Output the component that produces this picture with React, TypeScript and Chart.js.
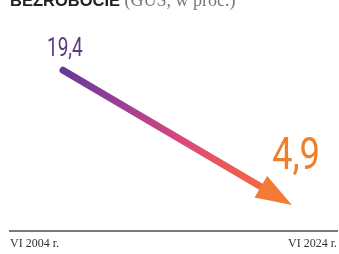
import React, { useEffect, useRef } from "react";
import { Chart, registerables } from "chart.js";

Chart.register(...registerables);

const years = [2004, 2024];
const values = [19.4, 4.9];
const valueLabels = ["19,4", "4,9"];
const tickLabels = ["VI 2004 r.", "VI 2024 r."];
const titleBold = "BEZROBOCIE";
const titleRest = "(GUS, w proc.)";

const arrowPlugin = {
  id: "arrowPlugin",
  afterDatasetsDraw(chart: any) {
    const meta = chart.getDatasetMeta(0);
    const p0 = meta.data[0];
    const p1 = meta.data[1];
    if (!p0 || !p1) return;
    const ctx = chart.ctx;
    const dx = p1.x - p0.x;
    const dy = p1.y - p0.y;
    const len = Math.sqrt(dx * dx + dy * dy);
    const ux = dx / len;
    const uy = dy / len;
    const nx = -uy;
    const ny = ux;
    const headLen = 36;
    const headHalf = 12.5;
    const bx = p1.x - ux * headLen;
    const by = p1.y - uy * headLen;

    ctx.save();
    const grad = ctx.createLinearGradient(p0.x, p0.y, p1.x, p1.y);
    grad.addColorStop(0, "#653a98");
    grad.addColorStop(0.25, "#9a3f93");
    grad.addColorStop(0.5, "#d8467f");
    grad.addColorStop(0.8, "#f0604a");
    grad.addColorStop(1, "#f47a38");
    ctx.strokeStyle = grad;
    ctx.lineWidth = 7;
    ctx.lineCap = "round";
    ctx.beginPath();
    ctx.moveTo(p0.x, p0.y);
    ctx.lineTo(bx + ux * 4, by + uy * 4);
    ctx.stroke();

    ctx.lineCap = "butt";
    ctx.fillStyle = "#f47a38";
    ctx.beginPath();
    ctx.moveTo(p1.x, p1.y);
    ctx.lineTo(bx + nx * headHalf, by + ny * headHalf);
    ctx.lineTo(bx - nx * headHalf, by - ny * headHalf);
    ctx.closePath();
    ctx.fill();

    const drawCond = (text: string, x: number, y: number, size: number, color: string, sx: number) => {
      ctx.save();
      ctx.translate(x, y);
      ctx.scale(sx, 1);
      ctx.font = `400 ${size}px Roboto, "Noto Sans", sans-serif`;
      ctx.fillStyle = color;
      ctx.textAlign = "left";
      ctx.textBaseline = "alphabetic";
      ctx.fillText(text, 0, 0);
      ctx.restore();
    };
    drawCond(valueLabels[0], p0.x - 16, p0.y - 14, 25, "#5a3b82", 0.76);
    drawCond(valueLabels[1], p1.x - 20, p1.y - 36, 44, "#f07f2c", 0.83);

    ctx.textAlign = "left";
    ctx.textBaseline = "alphabetic";
    ctx.font = 'bold 16.5px "Liberation Sans", Arial, sans-serif';
    ctx.fillStyle = "#222222";
    ctx.fillText(titleBold, 10, 5.5);
    const w = ctx.measureText(titleBold).width;
    ctx.font = '18px "Liberation Serif", serif';
    ctx.fillStyle = "#777777";
    ctx.fillText(titleRest, 10 + w + 4.5, 5.5);
    ctx.restore();
  },
};

export default function App() {
  const ref = useRef<HTMLCanvasElement | null>(null);
  useEffect(() => {
    document.body.style.margin = "0";
    const canvas = ref.current;
    if (!canvas) return;
    const chart = new Chart(canvas, {
      type: "line",
      data: {
        datasets: [
          {
            data: years.map((y, i) => ({ x: y, y: values[i] })),
            showLine: false,
            pointRadius: 0,
            borderWidth: 0,
          },
        ],
      },
      options: {
        responsive: false,
        animation: false,
        devicePixelRatio: 1,
        layout: { padding: { left: 10, right: 2, top: 20, bottom: -3.4 } },
        plugins: {
          legend: { display: false },
          tooltip: { enabled: false },
          title: { display: false },
        },
        scales: {
          x: {
            type: "linear",
            min: 1999.37,
            max: 2027.94,
            afterBuildTicks: (s: any) => {
              s.ticks = [{ value: s.min }, { value: s.max }];
            },
            afterFit: (s: any) => {
              s.paddingLeft = 0;
              s.paddingRight = 0;
            },
            ticks: {
              callback: (_v: any, i: number) => tickLabels[i],
              align: "inner",
              maxRotation: 0,
              autoSkip: false,
              padding: 6,
              color: "#333333",
              font: { family: '"Liberation Serif", serif', size: 12 },
            },
            grid: { display: false, drawTicks: false },
            border: { display: true, color: "#7a7a7a", width: 2 },
          },
          y: { display: false, min: 2.1, max: 24.8 },
        },
      },
      plugins: [arrowPlugin],
    });
    return () => chart.destroy();
  }, []);
  return <canvas ref={ref} width={339} height={254} style={{ display: "block" }} />;
}
